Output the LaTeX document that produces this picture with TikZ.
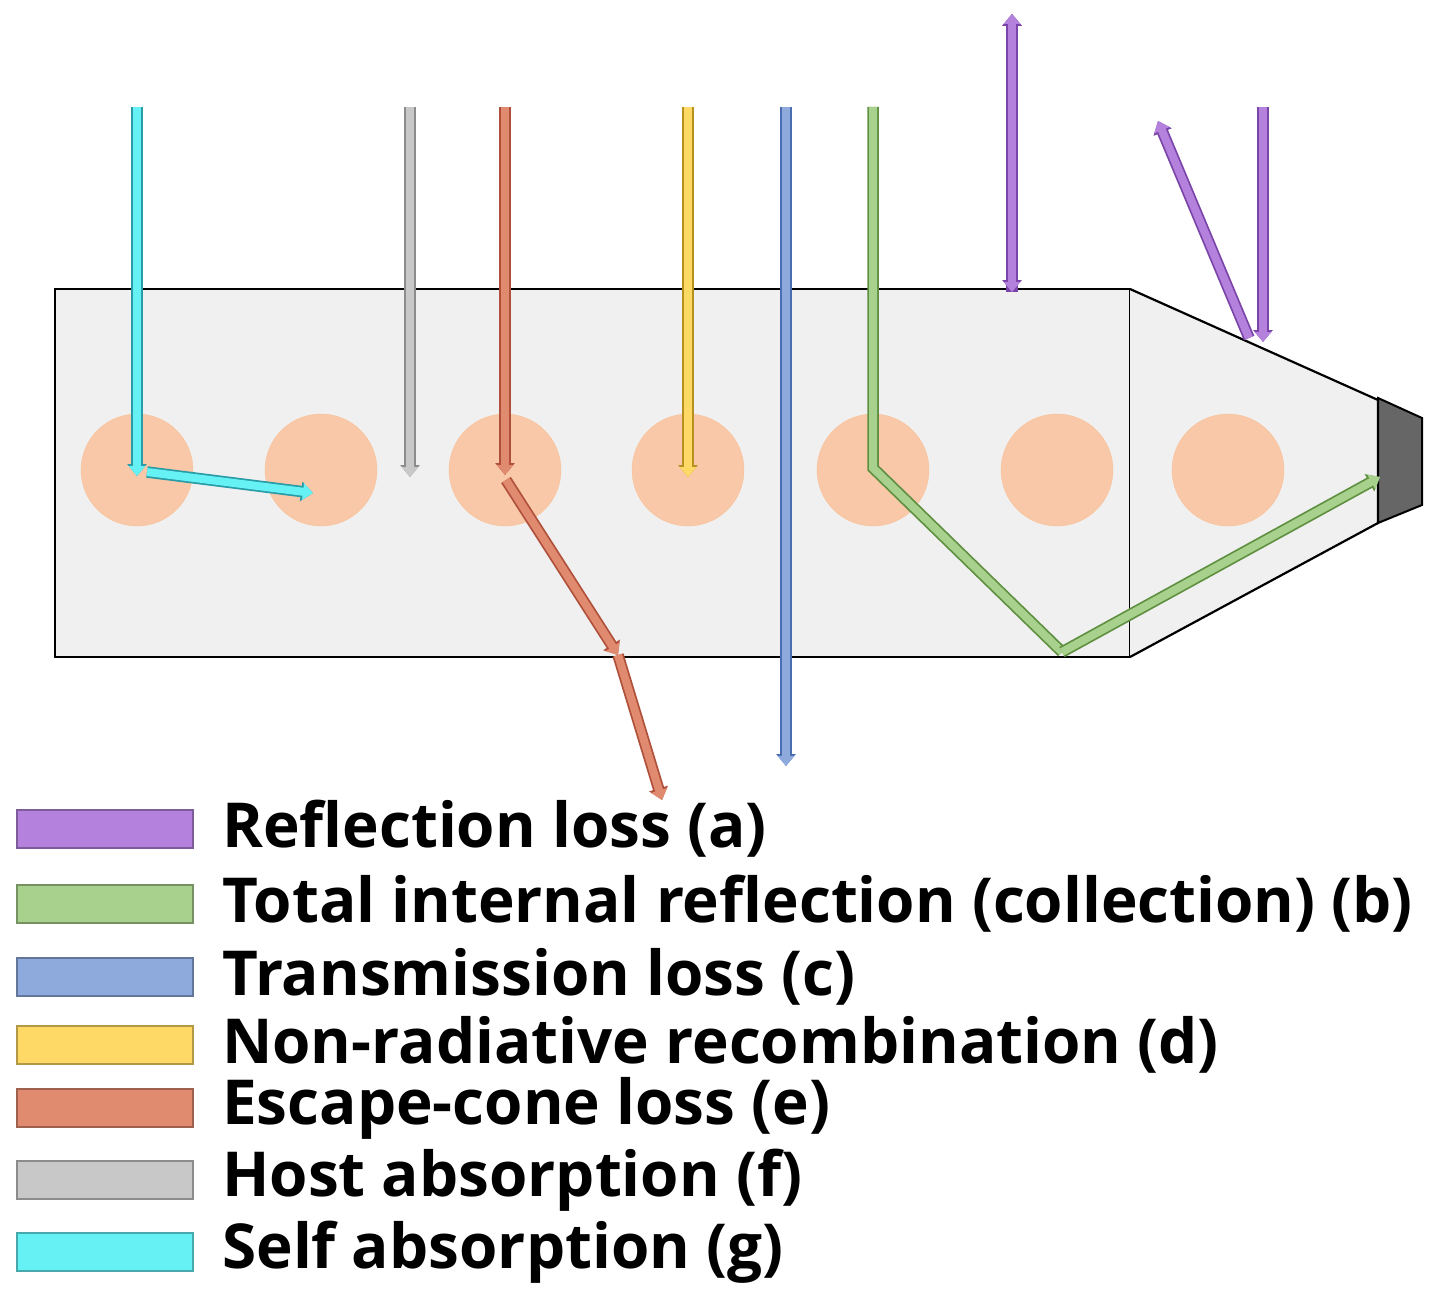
\documentclass[tikz,border=0pt]{standalone}
\usepackage{fontspec}
\setmainfont{Open Sans}
\usetikzlibrary{arrows.meta}
\definecolor{cy}{HTML}{66F2F5}\definecolor{cyd}{HTML}{2A9CA8}
\definecolor{gr}{HTML}{C8C8C8}\definecolor{grd}{HTML}{8C8C8C}
\definecolor{orr}{HTML}{E08A70}\definecolor{ord}{HTML}{B0503A}
\definecolor{ye}{HTML}{FFD966}\definecolor{yed}{HTML}{B89020}
\definecolor{bl}{HTML}{8EAADC}\definecolor{bld}{HTML}{4A6EB0}
\definecolor{gn}{HTML}{A9D18E}\definecolor{gnd}{HTML}{5E9040}
\definecolor{pu}{HTML}{B482DC}\definecolor{pud}{HTML}{7A44A8}
\definecolor{dot}{HTML}{F8C8A8}
\tikzset{
 ray/.style n args={2}{line width=8pt, draw=#1, -{Triangle[width=16pt,length=10pt]},
   preaction={draw=#2, line width=11.5pt, -{Triangle[width=19pt,length=12pt]}}},
 sw/.style={draw=#1!70!black, fill=#1, line width=1.5pt, minimum width=176pt, minimum height=38pt, inner sep=0pt},
 lab/.style={anchor=west, font=\fontsize{62}{62}\selectfont\bfseries, inner sep=0pt},
 dotc/.style={circle, fill=dot, draw=dot!90!orange, minimum size=112pt, inner sep=0pt}
}
\begin{document}
\begin{tikzpicture}[x=1pt,y=-1pt]
\useasboundingbox (0,0) rectangle (1451,1308);
\draw[fill=black!6, line width=2.2pt] (55,289) rectangle (1130,657);
\draw[fill=black!6, line width=2.2pt] (1130,289) -- (1378,400) -- (1378,523) -- (1130,657);
\draw[fill=black!60, line width=2pt] (1378,398) -- (1422,418) -- (1422,505) -- (1378,523) -- cycle;
\foreach \x/\n in {137/c1,321/c2,505/c3,688/c4,873/c5,1057/c6,1228/c7}
  \node[dotc] (\n) at (\x,470) {};
% cyan
\coordinate (a1) at (137,107); \coordinate (a2) at (137,476);
\coordinate (a3) at (147,472); \coordinate (a4) at (313,493);
\draw[ray={cy}{cyd}] (a1) -- (a2);
\draw[ray={cy}{cyd}] (a3) -- (a4);
% gray
\coordinate (g1) at (410,107); \coordinate (g2) at (410,477);
\draw[ray={gr}{grd}] (g1) -- (g2);
% orange
\coordinate (o1) at (505,107); \coordinate (o2) at (505,475);
\coordinate (o3) at (506,480); \coordinate (o4) at (618,655); \coordinate (o5) at (662,800);
\draw[ray={orr}{ord}] (o1) -- (o2);
\draw[ray={orr}{ord}] (o3) -- (o4);
\draw[ray={orr}{ord}] (o4) -- (o5);
% yellow
\coordinate (y1) at (688,107); \coordinate (y2) at (688,477);
\draw[ray={ye}{yed}] (y1) -- (y2);
% blue
\coordinate (b1) at (786,107); \coordinate (b2) at (786,766);
\draw[ray={bl}{bld}] (b1) -- (b2);
% green
\coordinate (n1) at (873,107); \coordinate (n2) at (873,468);
\coordinate (n3) at (1062,652); \coordinate (n4) at (1380,477);
\draw[line width=11.5pt, draw=gnd, line join=miter] (n1) -- (n2) -- (n3);
\draw[line width=8pt, draw=gn, line join=miter] (n1) -- (n2) -- (n3);
\draw[ray={gn}{gnd}] (n3) -- (n4);
% purple
\coordinate (p1) at (1012,292); \coordinate (p2) at (1012,14);
\draw[ray={pu}{pud}, {Triangle[width=16pt,length=10pt]}-{Triangle[width=16pt,length=10pt]},
  preaction={draw=pud, line width=11.5pt, {Triangle[width=19pt,length=12pt]}-{Triangle[width=19pt,length=12pt]}}] (p1) -- (p2);
\coordinate (q1) at (1263,107); \coordinate (q2) at (1263,342);
\coordinate (q3) at (1249,338); \coordinate (q4) at (1158,121);
\draw[ray={pu}{pud}] (q1) -- (q2);
\draw[ray={pu}{pud}] (q3) -- (q4);
% legend
\foreach \y/\c/\t/\n in {829/pu/Reflection loss (a)/l1, 904/gn/Total internal reflection (collection) (b)/l2,
  977/bl/Transmission loss (c)/l3, 1045/ye/Non-radiative recombination (d)/l4,
  1108/orr/Escape-cone loss (e)/l5, 1180/gr/Host absorption (f)/l6, 1252/cy/Self absorption (g)/l7}{
  \node[sw=\c] (s\n) at (105,\y) {};
  \node[lab] (\n) at (222,\y) {\t};
}
\end{tikzpicture}
\end{document}
